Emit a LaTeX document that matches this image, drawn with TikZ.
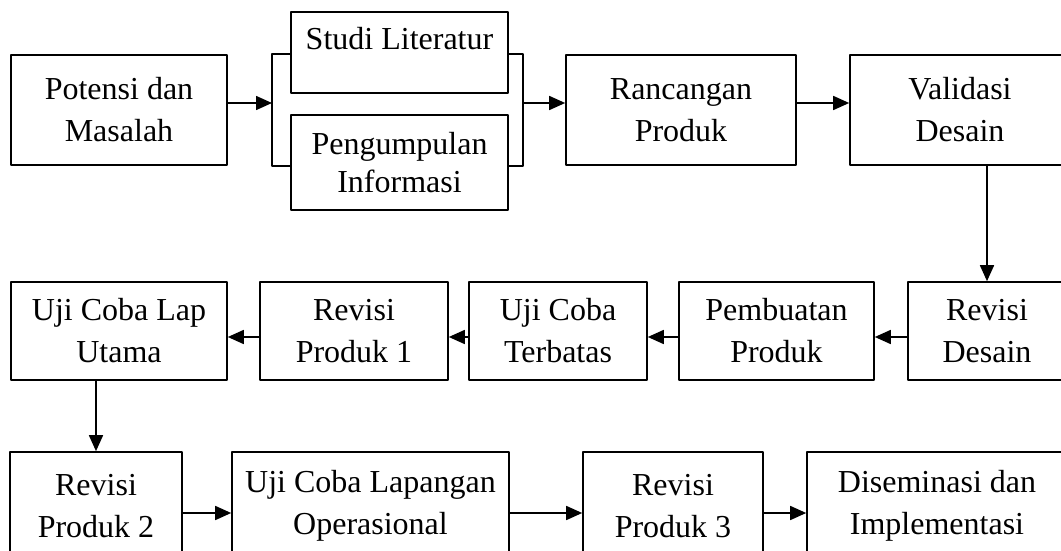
\documentclass[tikz,border=0pt]{standalone}
\usepackage{fontspec}
\setmainfont{Liberation Serif}
\usetikzlibrary{arrows.meta}
\tikzset{box/.style={draw, line width=0.8pt, align=center, inner sep=0pt}}
\begin{document}
\begin{tikzpicture}[x=0.5pt, y=-0.5pt, font=\fontsize{16}{21}\selectfont, line join=round, line width=0.8pt, >={Triangle[length=8pt,width=7pt]}]
	\useasboundingbox (0,0) rectangle (1061,551);
	\node[box, minimum width=108pt, minimum height=55pt] (pot) at (119,110) {Potensi dan\\Masalah};
	\node[box, minimum width=108.5pt, minimum height=40.5pt, text height=11pt, text depth=13.5pt] (studi) at (399.5,52.5) {Studi Literatur};
	\node[box, minimum width=108.5pt, minimum height=47.5pt, font=\fontsize{16}{19}\selectfont] (info) at (399.5,162.5) {Pengumpulan\\Informasi};
	\node[box, minimum width=115pt, minimum height=55pt] (ranc) at (681,110) {Rancangan\\Produk};
	\node[box, minimum width=110pt, minimum height=55pt] (valid) at (960,110) {Validasi\\Desain};
	\node[box, minimum width=79pt, minimum height=49pt] (rd) at (987,331) {Revisi\\Desain};
	\node[box, minimum width=97.5pt, minimum height=49pt] (buat) at (776.5,331) {Pembuatan\\Produk};
	\node[box, minimum width=89pt, minimum height=49pt] (ujiter) at (558,331) {Uji Coba\\Terbatas};
	\node[box, minimum width=94pt, minimum height=49pt] (rp1) at (354,331) {Revisi\\Produk 1};
	\node[box, minimum width=108pt, minimum height=49pt] (ujilap) at (119,331) {Uji Coba Lap\\Utama};
	\node[box, minimum width=86pt, minimum height=54pt] (rp2) at (96,506) {Revisi\\Produk 2};
	\node[box, minimum width=138.5pt, minimum height=54pt] (ujiop) at (370.5,506) {Uji Coba Lapangan\\Operasional};
	\node[box, minimum width=90pt, minimum height=54pt] (rp3) at (673,506) {Revisi\\Produk 3};
	\node[box, minimum width=130pt, minimum height=54pt] (dis) at (937,506) {Diseminasi dan\\Implementasi};
	\coordinate (bl) at (272,103);
	\coordinate (br) at (523,103);
	\draw (studi.west |- pot.north) -- (bl |- pot.north) -- (bl |- pot.south) -- (info.west |- pot.south);
	\draw (studi.east |- pot.north) -- (br |- pot.north) -- (br |- pot.south) -- (info.east |- pot.south);
	\draw[->] (pot.east |- bl) -- (bl);
	\draw[->] (br) -- (ranc.west |- br);
	\draw[->] (ranc.east |- br) -- (valid.west |- br);
	\draw[->] (rd.north |- valid.south) -- (rd.north);
	\draw[->] ([yshift=-3pt]rd.west) -- ([yshift=-3pt]buat.east);
	\draw[->] ([yshift=-3pt]buat.west) -- ([yshift=-3pt]ujiter.east);
	\draw[->] ([yshift=-3pt]ujiter.west) -- ([yshift=-3pt]rp1.east);
	\draw[->] ([yshift=-3pt]rp1.west) -- ([yshift=-3pt]ujilap.east);
	\draw[->] (rp2.north |- ujilap.south) -- (rp2.north);
	\draw[->] ([yshift=-3.5pt]rp2.east) -- ([yshift=-3.5pt]ujiop.west);
	\draw[->] ([yshift=-3.5pt]ujiop.east) -- ([yshift=-3.5pt]rp3.west);
	\draw[->] ([yshift=-3.5pt]rp3.east) -- ([yshift=-3.5pt]dis.west);
\end{tikzpicture}
\end{document}
